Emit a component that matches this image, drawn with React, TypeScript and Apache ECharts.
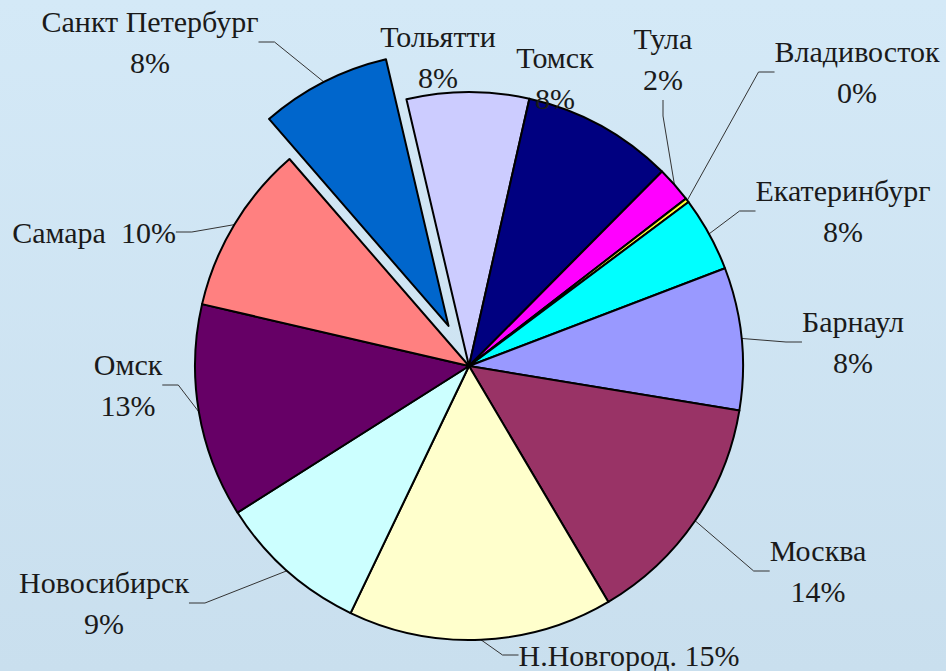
import { useEffect, useRef } from 'react';
import * as echarts from 'echarts';

// Slices clockwise from the top (Тольятти first), sizes (% of the circle)
const cities = [
  'Тольятти', 'Томск', 'Тула', 'Владивосток', 'Екатеринбург', 'Барнаул',
  'Москва', 'Н.Новгород.', 'Новосибирск', 'Омск', 'Самара', 'Санкт Петербург',
];
const shares = [7.2, 8.9, 2.1, 0.25, 4.4, 8.4, 13.9, 15.6, 8.9, 12.6, 10.0, 7.7];
// Percent texts as printed on the chart
const shareLabels = ['8%', '8%', '2%', '0%', '8%', '8%', '14%', '15%', '9%', '13%', '10%', '8%'];
const explodedCity = 'Санкт Петербург';

// Styling / layout (not data)
const colors = [
  '#CCCCFF', '#000080', '#FF00FF', '#FFFF33', '#00FFFF', '#9999FF',
  '#993366', '#FFFFCC', '#CCFFFF', '#660066', '#FF8080', '#0066CC',
];
const separators = ['\n', '\n', '\n', '\n', '\n', '\n', '\n', ' ', '\n', '\n', '  ', '\n'];
const labelCenters: [number, number][] = [
  [438, 57], [555, 78], [663, 59], [857, 72], [843, 211], [853, 342],
  [818, 571], [629, 655], [104, 603], [128, 385], [94, 232], [150, 42],
];
const hiddenLines = ['Тольятти', 'Томск'];
const CENTER: [number, number] = [469, 366];
const RADIUS = 274;
const START = 103.2;
const EXPLODE = 45;

export default function App() {
  const ref = useRef<HTMLDivElement>(null);

  useEffect(() => {
    if (!ref.current) return;
    const chart = echarts.init(ref.current, undefined, { renderer: 'svg' });

    const total = shares.reduce((a, b) => a + b, 0);
    const ei = cities.indexOf(explodedCity);
    const before = shares.slice(0, ei).reduce((a, b) => a + b, 0);
    const midDeg = START - ((before + shares[ei] / 2) / total) * 360;
    const mid = (midDeg * Math.PI) / 180;
    const explodedCenter = [CENTER[0] + EXPLODE * Math.cos(mid), CENTER[1] - EXPLODE * Math.sin(mid)];

    const hidden = {
      itemStyle: { color: 'rgba(0,0,0,0)', borderWidth: 0 },
      label: { show: false },
      labelLine: { show: false },
    };
    const makeData = (visible: (i: number) => boolean) =>
      cities.map((name, i) =>
        visible(i)
          ? {
              name,
              value: shares[i],
              itemStyle: { color: colors[i] },
              labelLine: { show: !hiddenLines.includes(name) },
            }
          : { name, value: shares[i], ...hidden }
      );

    const common = {
      type: 'pie',
      radius: RADIUS,
      startAngle: START,
      clockwise: true,
      avoidLabelOverlap: false,
      silent: true,
      emphasis: { disabled: true },
      itemStyle: { borderColor: '#000', borderWidth: 2 },
      label: {
        show: true,
        position: 'outside',
        fontFamily: "'Liberation Serif', 'Times New Roman', serif",
        fontSize: 30,
        lineHeight: 41,
        color: '#1a1a1a',
        formatter: (p: any) => cities[p.dataIndex] + separators[p.dataIndex] + shareLabels[p.dataIndex],
      },
      labelLine: {
        show: true,
        length: 10,
        length2: 16,
        lineStyle: { color: '#333', width: 1 },
      },
      labelLayout: (params: any) => {
        const c = labelCenters[params.dataIndex];
        return { x: c[0], y: c[1], align: 'center', verticalAlign: 'middle' };
      },
    };

    chart.setOption({
      animation: false,
      backgroundColor: new echarts.graphic.LinearGradient(0, 0, 0, 1, [
        { offset: 0, color: '#D4E9F7' },
        { offset: 1, color: '#C9DFEE' },
      ]),
      series: [
        { ...common, center: CENTER, data: makeData((i) => i !== ei) },
        { ...common, center: explodedCenter, data: makeData((i) => i === ei) },
      ],
    });
    return () => chart.dispose();
  }, []);

  return <div ref={ref} style={{ position: 'fixed', left: 0, top: 0, width: 946, height: 671 }} />;
}
